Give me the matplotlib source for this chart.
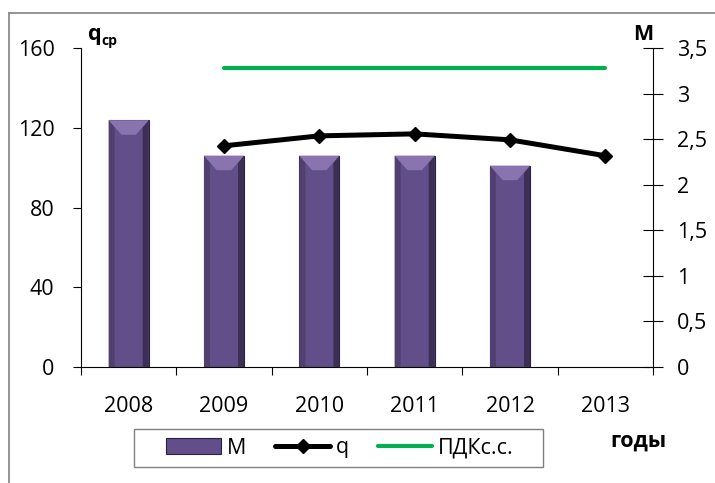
import matplotlib.pyplot as plt
from matplotlib.patches import Polygon, Rectangle
from matplotlib.lines import Line2D
from matplotlib.ticker import FuncFormatter

plt.rcParams['font.family'] = ['Open Sans', 'DejaVu Sans']

# данные
years = ['2008', '2009', '2010', '2011', '2012', '2013']
m_values = [2.71, 2.32, 2.32, 2.32, 2.21]          # M, правая ось
q_values = [111, 116, 117, 114, 106]                # q, 2009-2013, левая ось
pdk_values = [150, 150, 150, 150, 150]              # ПДКс.с., 2009-2013

W, H = 715, 483
fig = plt.figure(figsize=(W / 100, H / 100), dpi=100)

def fx(x):
    return x / W

def fy(y):
    return 1 - y / H

ax = fig.add_axes([fx(81), fy(366.7), fx(653) - fx(81), fy(48.3) - fy(366.7)])
ax2 = ax.twinx()
ax.set_zorder(2)
ax.patch.set_visible(False)

fs = 15.5
bar_color = '#624e88'

# столбцы M
xb = range(len(m_values))
bars = ax2.bar(xb, m_values, width=0.42, color=bar_color, edgecolor='#2a2040',
               linewidth=0.8, label='M')
for r in bars:
    x0, w, h = r.get_x(), r.get_width(), r.get_height()
    ds, dt, t = w * 0.15, w * 0.32, 0.16
    ax2.add_patch(Polygon([(x0, 0), (x0, h), (x0 + ds, h - t * 0.5), (x0 + ds, 0)],
                          closed=True, color='#50406f', lw=0))
    ax2.add_patch(Polygon([(x0 + w, 0), (x0 + w, h), (x0 + w - ds, h - t * 0.5), (x0 + w - ds, 0)],
                          closed=True, color='#3c2f55', lw=0))
    ax2.add_patch(Polygon([(x0, h), (x0 + w, h), (x0 + w - dt, h - t), (x0 + dt, h - t)],
                          closed=True, color='#8a74b0', lw=0))

# линии q и ПДК
xl = range(1, len(years))
q_line, = ax.plot(xl, q_values, color='black', lw=3.6, marker='D', ms=7.5,
                  solid_capstyle='round', label='q')
pdk_line, = ax.plot(xl, pdk_values, color='#00b050', lw=3, solid_capstyle='round',
                    label='ПДКс.с.')

ax.set_xlim(-0.5, 5.5)
ax.set_ylim(0, 160)
ax.set_yticks([0, 40, 80, 120, 160])
ax2.set_ylim(0, 3.5)
ax2.set_yticks([0, 0.5, 1, 1.5, 2, 2.5, 3, 3.5])
ax2.yaxis.set_major_formatter(FuncFormatter(lambda v, p: ('%g' % v).replace('.', ',')))

ax.set_xticks(range(len(years)))
ax.set_xticklabels(years)
ax.set_xticks([i - 0.5 for i in range(len(years) + 1)], minor=True)
ax.tick_params(axis='x', which='major', length=0, pad=21, labelsize=fs)
ax.tick_params(axis='x', which='minor', length=6, width=0.8, direction='out')
ax.tick_params(axis='y', length=6, width=0.8, pad=13, labelsize=fs)
ax2.tick_params(axis='y', direction='inout', length=14, width=0.8, pad=10, labelsize=fs)

for a in (ax, ax2):
    a.spines['top'].set_visible(False)
ax.spines['right'].set_visible(False)
ax2.spines['left'].set_visible(False)
ax2.spines['bottom'].set_visible(False)
for s in (ax.spines['left'], ax.spines['bottom'], ax2.spines['right']):
    s.set_linewidth(0.8)

# подписи осей
fig.text(fx(88), fy(40), 'q', fontsize=fs, fontweight='bold', va='baseline')
fig.text(fx(101.5), fy(45), 'ср', fontsize=10, fontweight='bold', va='baseline')
fig.text(fx(643), fy(40), 'M', fontsize=fs, fontweight='bold', va='baseline', ha='center')
fig.text(fx(638), fy(447), 'годы', fontsize=fs, fontweight='bold', va='baseline', ha='center')

# легенда
fig.add_artist(Rectangle((fx(134), fy(467)), fx(543) - fx(134), fy(429) - fy(467),
                         transform=fig.transFigure, fill=False, edgecolor='#808080', lw=1))
fig.legend([bars, q_line, pdk_line], ['M', 'q', 'ПДКс.с.'], loc='center',
           bbox_to_anchor=(fx(340), fy(448)), ncol=3, fontsize=fs, frameon=False,
           handlelength=2.55, handletextpad=0.25, columnspacing=1.35, borderpad=0.2)

# рамка
fig.add_artist(Line2D([fx(9), 1], [fy(12.7), fy(12.7)], color='#8c8c8c', lw=1.3))
fig.add_artist(Line2D([fx(9), fx(9)], [fy(12.7), 0], color='#8c8c8c', lw=1.3))

fig.savefig('out.png', dpi=100)
